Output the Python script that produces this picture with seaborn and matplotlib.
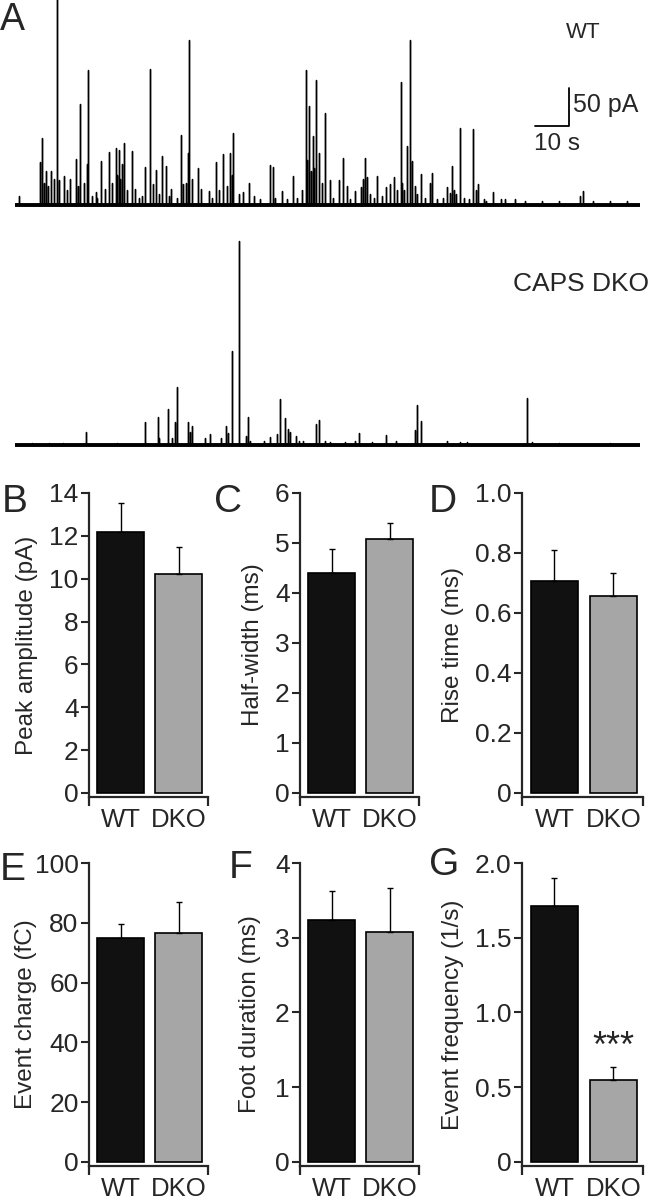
import numpy as np
import pandas as pd
import seaborn as sns
import matplotlib.pyplot as plt

# ---- trace data (time in s, amplitude in pA) ----
trace_len = 183.8
wt_t = [1.3, 7.4, 8.0, 8.5, 9.0, 9.6, 10.5, 11.4, 12.3, 13.0, 14.5, 15.2, 16.1, 17.8, 18.4,
        19.0, 20.3, 21.2, 21.6, 22.5, 23.7, 24.2, 25.4, 26.5, 27.6, 28.5, 29.6, 30.0, 30.6,
        31.0, 31.4, 32.2, 33.0, 34.4, 35.3, 36.5, 37.3, 38.1, 39.8, 40.5, 41.5, 42.3, 43.2,
        44.5, 45.2, 46.0, 47.5, 48.7, 49.4, 50.3, 50.9, 51.2, 52.0, 53.7, 54.8, 57.0, 58.0,
        59.2, 60.0, 61.1, 62.2, 63.2, 63.7, 64.1, 65.8, 67.1, 68.7, 70.3, 72.0, 75.0, 75.9,
        76.5, 78.6, 80.0, 81.7, 83.0, 84.5, 85.5, 86.0, 86.5, 87.0, 87.5, 88.0, 88.6, 89.5,
        90.3, 91.1, 92.6, 93.5, 95.4, 96.5, 97.5, 98.5, 99.9, 101.8, 102.2, 102.9, 103.6,
        104.3, 105.5, 106.6, 107.8, 109.0, 110.3, 111.4, 112.4, 113.4, 113.9, 114.5, 115.2,
        116.2, 116.8, 117.5, 118.3, 119.3, 120.5, 121.9, 122.6, 124.0, 126.0, 127.0, 127.8,
        128.6, 129.2, 129.8, 130.8, 132.0, 133.5, 134.7, 135.5, 136.3, 137.8, 138.5, 140.6,
        142.8, 144.0, 146.9, 150.0, 155.0, 160.0, 166.2, 167.1, 170.0, 175.0, 180.0]
wt_amp = [12, 57, 89, 30, 46, 25, 45, 35, 300, 33, 39, 20, 35, 61, 25,
          135, 30, 55, 180, 12, 17, 10, 59, 21, 71, 30, 76, 40, 74,
          35, 55, 83, 20, 72, 21, 10, 12, 51, 181, 28, 47, 15, 65,
          52, 12, 21, 10, 94, 28, 30, 70, 220, 35, 49, 21, 19, 10,
          57, 20, 68, 25, 69, 40, 96, 15, 17, 29, 12, 8, 53, 51,
          10, 19, 8, 39, 10, 20, 180, 60, 132, 45, 92, 50, 166, 70,
          30, 123, 33, 10, 33, 63, 25, 8, 19, 24, 35, 63, 37,
          15, 10, 39, 12, 24, 28, 37, 20, 164, 30, 20, 79,
          220, 59, 25, 15, 42, 10, 30, 43, 8, 10, 24, 16,
          52, 20, 15, 103, 10, 8, 101, 20, 28, 8, 6, 18,
          8, 8, 8, 5, 5, 5, 12.5, 19, 5, 5, 5]
dko_t = [5.0, 10.0, 14.0, 20.8, 30.0, 38.2, 42.0, 42.4, 44.9, 46.2, 47.1, 47.7, 50.9, 51.4,
         52.1, 55.9, 57.2, 60.5, 62.1, 62.6, 63.9, 66.0, 68.0, 68.4, 69.2, 73.2, 75.0, 77.1,
         77.9, 79.5, 80.3, 80.8, 82.6, 83.6, 84.8, 88.6, 89.3, 91.1, 92.5, 97.0, 100.0, 101.2,
         105.0, 109.2, 112.0, 117.5, 118.1, 119.3, 127.0, 131.0, 133.0, 150.7, 152.0, 160.0, 175.0]
dko_amp = [3, 3, 3, 17, 3, 30.5, 38, 10, 47.6, 9, 30.5, 77, 30.5, 17,
           26, 10, 15, 10, 26, 16, 125, 272, 12, 38, 5, 6, 11, 15,
           61, 36, 21, 18, 12.5, 6, 5, 28, 33, 6, 4, 4, 5, 16,
           4, 14, 5, 20, 53, 32, 5, 4, 4, 63, 4, 3, 3]

# ---- bar data (mean, SEM) ----
genotypes = ['WT', 'DKO']
peak_amp = [12.2, 10.2]
peak_amp_sem = [1.33, 1.29]
half_width = [4.4, 5.07]
half_width_sem = [0.48, 0.33]
rise_time = [0.706, 0.656]
rise_time_sem = [0.105, 0.077]
event_charge = [74.9, 76.5]
event_charge_sem = [4.8, 10.3]
foot_duration = [3.24, 3.08]
foot_duration_sem = [0.38, 0.58]
event_freq = [1.714, 0.547]
event_freq_sem = [0.186, 0.085]

sns.set_style('ticks')
plt.rcParams['font.family'] = ['Liberation Sans', 'DejaVu Sans']

W, H = 651, 1199
fig = plt.figure(figsize=(W / 100, H / 100), dpi=100)


def rect(x0, y0, x1, y1):
    return [x0 / W, 1 - y1 / H, (x1 - x0) / W, (y1 - y0) / H]


def spike_trace(ts, amps):
    xs, ys = [0.0], [0.0]
    for t, a in sorted(zip(ts, amps)):
        xs += [t, t, t]
        ys += [0, a, 0]
    xs.append(trace_len)
    ys.append(0)
    return xs, ys


# panel A traces
ax_wt = fig.add_axes(rect(15, 0, 640, 212))
ax_dko = fig.add_axes(rect(15, 230, 640, 452))
for ax, ts, amps, top in ((ax_wt, wt_t, wt_amp, 273.3), (ax_dko, dko_t, dko_amp, 286.7)):
    xs, ys = spike_trace(ts, amps)
    ax.plot([0, trace_len], [0, 0], color='black', lw=2.8, solid_capstyle='butt')
    ax.plot(xs, ys, color='black', lw=1.0)
    ax.set_xlim(0, trace_len)
    ax.set_ylim(-9.3, top)
    ax.axis('off')

# scale bar
ax_wt.plot([153, 163, 163], [106, 106, 156], color='black', lw=1.3, clip_on=False)
ax_wt.text(164.0, 133, '50 pA', fontsize=18, va='center', ha='left')
ax_wt.text(152.5, 82, '10 s', fontsize=17.5, va='center', ha='left')
fig.text(583 / W, 1 - 33 / H, 'WT', fontsize=16, ha='center', va='center')
fig.text(649 / W, 1 - 284 / H, 'CAPS DKO', fontsize=19, ha='right', va='center')
fig.text(0 / W, 1 - 30 / H, 'A', fontsize=27, ha='left', va='baseline')

panels = [
    ('B', 'Peak amplitude (pA)', peak_amp, peak_amp_sem, 14, [0, 2, 4, 6, 8, 10, 12, 14],
     ['0', '2', '4', '6', '8', '10', '12', '14'], (89, 493, 208, 797), 27, (2, 502)),
    ('C', 'Half-width (ms)', half_width, half_width_sem, 6, [0, 1, 2, 3, 4, 5, 6],
     ['0', '1', '2', '3', '4', '5', '6'], (300, 493, 419, 797), 253, (214, 502)),
    ('D', 'Rise time (ms)', rise_time, rise_time_sem, 1.0, [0, 0.2, 0.4, 0.6, 0.8, 1.0],
     ['0', '0.2', '0.4', '0.6', '0.8', '1.0'], (522, 493, 643, 797), 453, (429, 502)),
    ('E', 'Event charge (fC)', event_charge, event_charge_sem, 100, [0, 20, 40, 60, 80, 100],
     ['0', '20', '40', '60', '80', '100'], (89, 863, 208, 1166), 26, (0, 870)),
    ('F', 'Foot duration (ms)', foot_duration, foot_duration_sem, 4, [0, 1, 2, 3, 4],
     ['0', '1', '2', '3', '4'], (300, 863, 419, 1166), 250, (229, 868)),
    ('G', 'Event frequency (1/s)', event_freq, event_freq_sem, 2.0, [0, 0.5, 1.0, 1.5, 2.0],
     ['0', '0.5', '1.0', '1.5', '2.0'], (522, 863, 643, 1166), 453, (429, 865)),
]

xlo, xhi = -0.55, 1.5
for letter, ylabel, vals, sems, ymax, ticks, ticklabels, box, lab_x, let_xy in panels:
    ax = fig.add_axes(rect(*box))
    df = pd.DataFrame({'genotype': genotypes, 'value': vals})
    sns.barplot(data=df, x='genotype', y='value', hue='genotype', palette=['#111111', '#a6a6a6'],
                width=0.81, edgecolor='black', linewidth=1.2, errorbar=None, legend=False, ax=ax)
    ax.errorbar([0, 1], vals, yerr=[[0, 0], sems], fmt='none', ecolor='black',
                elinewidth=1.0, capsize=2.2, capthick=1.0)
    ax.set_xlim(xlo, xhi)
    ax.set_ylim(-ymax * 0.0135, ymax)
    ax.set_yticks(ticks)
    ax.set_yticklabels(ticklabels)
    ax.set_xticks([0, 1])
    ax.set_xticklabels(genotypes)
    ax.set_xticks([xlo, xhi], minor=True)
    ax.tick_params(axis='y', direction='out', length=5.5, width=1.5, labelsize=19, pad=2)
    ax.tick_params(axis='x', which='major', length=0, labelsize=18.5, pad=8)
    ax.tick_params(axis='x', which='minor', direction='out', length=6.5, width=1.6)
    ax.set_xlabel('')
    sns.despine(ax=ax)
    for s in ('left', 'bottom'):
        ax.spines[s].set_linewidth(1.6)
    ax.set_ylabel(ylabel, fontsize=17.5)
    w_px = box[2] - box[0]
    ax.yaxis.set_label_coords((lab_x + 11 - box[0]) / w_px, 0.5)
    fig.text(let_xy[0] / W, 1 - let_xy[1] / H, letter, fontsize=28, ha='left', va='center')
    if letter == 'G':
        ax.text(1, vals[1] + sems[1] + 0.02, '***', fontsize=26, ha='center', va='bottom')

fig.savefig('out.png', dpi=100)
